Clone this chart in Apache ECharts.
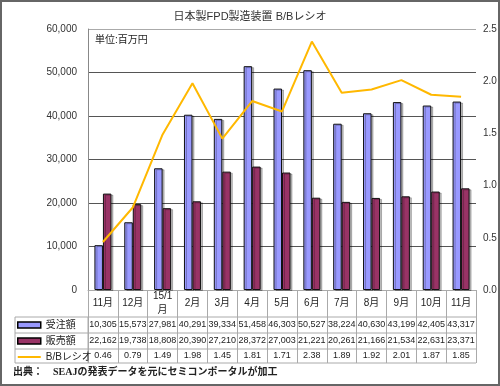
<!DOCTYPE html>
<html>
<head>
<meta charset="utf-8">
<script src="https://cdn.jsdelivr.net/npm/echarts@6/dist/echarts.min.js"></script>
<style>
html,body{margin:0;padding:0;background:#fff;}
#wrap{position:relative;width:500px;height:386px;}
#chart{position:absolute;left:0;top:0;width:500px;height:386px;}
#frame{position:absolute;left:0;top:0;width:500px;height:386px;box-sizing:border-box;border:2px solid #666;pointer-events:none;}
</style>
</head>
<body>
<div id="wrap"><div id="chart"></div><div id="frame"></div></div>
<script>
const categories = ['11月','12月','15/1\n月','2月','3月','4月','5月','6月','7月','8月','9月','10月','11月'];
const orders = [10305,15573,27981,40291,39334,51458,46303,50527,38224,40630,43199,42405,43317];
const sales = [22162,19738,18808,20390,27210,28372,27003,21221,20261,21166,21534,22631,23371];
const ratio = [0.46,0.79,1.49,1.98,1.45,1.81,1.71,2.38,1.89,1.92,2.01,1.87,1.85];
const seriesNames = ['受注額','販売額','B/Bレシオ'];
const titleText = '日本製FPD製造装置 B/Bレシオ';
const unitText = '単位:百万円';
const sourceText = '出典：　SEAJの発表データを元にセミコンポータルが加工';

const fmt = v => v.toLocaleString('en-US');
const chart = echarts.init(document.getElementById('chart'), null, {renderer:'canvas'});
const FONT = "'Liberation Sans', 'Noto Sans CJK JP', sans-serif";
const gridL = 88, gridR = 476, gridT = 29, gridB = 290;
const tableL = 15, rows = [317, 333, 349, 363];

const lineGfx = [];
rows.forEach(y => lineGfx.push({type:'line', shape:{x1:tableL, y1:y, x2:gridR, y2:y}, style:{stroke:'#aaa', lineWidth:1}}));
[tableL, gridL].forEach(x => lineGfx.push({type:'line', shape:{x1:x, y1:rows[0], x2:x, y2:rows[3]}, style:{stroke:'#aaa', lineWidth:1}}));

function tableAxis(data, offset){
  return {
    type:'category', data:data, position:'bottom', offset:offset, gridIndex:0,
    axisLine:{show:false}, axisTick:{show:false},
    axisLabel:{interval:0, fontSize:9, color:'#222', margin:8, verticalAlign:'middle', fontFamily:FONT}
  };
}

chart.setOption({
  animation:false,
  textStyle:{fontFamily:FONT},
  title:{text:titleText, left:'center', top:6, textStyle:{fontSize:11, fontWeight:'normal', color:'#333', fontFamily:FONT}},
  grid:{left:gridL, right:500-gridR, top:gridT, bottom:386-gridB, containLabel:false},
  legend:{
    orient:'vertical', left:17, top:rows[0], padding:0, itemGap:0, itemWidth:23, itemHeight:6,
    data:[
      {name:seriesNames[0], icon:'rect', itemStyle:{borderColor:'#000', borderWidth:1.5}},
      {name:seriesNames[1], icon:'rect', itemStyle:{borderColor:'#000', borderWidth:1.5}},
      {name:seriesNames[2], icon:'path://M0,0 L23,0 L23,2 L0,2 Z', itemStyle:{color:'#FFB800', borderWidth:0}}
    ],
    textStyle:{fontSize:10, color:'#222', lineHeight:16, height:16, fontFamily:FONT},
    selectedMode:false
  },
  xAxis:[
    {
      type:'category', data:categories, gridIndex:0, position:'bottom',
      axisLine:{show:true, lineStyle:{color:'#aaa', width:1}},
      axisTick:{show:true, interval:0, length:rows[3]-gridB, lineStyle:{color:'#aaa'}},
      axisLabel:{interval:0, fontSize:10, color:'#222', margin:13, lineHeight:14, verticalAlign:'middle', fontFamily:FONT}
    },
    tableAxis(orders.map(fmt), rows[0]-gridB),
    tableAxis(sales.map(fmt), rows[1]-gridB),
    tableAxis(ratio.map(v => v.toFixed(2)), rows[2]-gridB-1)
  ],
  yAxis:[
    {
      type:'value', min:0, max:60000, interval:10000, position:'left',
      axisLine:{show:true, lineStyle:{color:'#888'}}, axisTick:{show:false},
      axisLabel:{fontSize:10, color:'#333', margin:11, formatter:v => fmt(v)},
      splitLine:{show:true, lineStyle:{color:['#555','#555','#555','#555','#555','#555','#aaa'], width:1}}
    },
    {
      type:'value', min:0, max:2.5, interval:0.5, position:'right',
      axisLine:{show:false}, axisTick:{show:false}, splitLine:{show:false},
      axisLabel:{fontSize:10, color:'#333', margin:7, formatter:v => v.toFixed(1)}
    }
  ],
  series:[
    {name:seriesNames[0], type:'bar', data:orders, xAxisIndex:0, yAxisIndex:0, barWidth:8.5, barGap:'0%',
     itemStyle:{color:'#9999FF', borderColor:'#111', borderWidth:1, shadowColor:'rgba(0,0,0,0.25)', shadowOffsetX:2, shadowOffsetY:1}},
    {name:seriesNames[1], type:'bar', data:sales, xAxisIndex:0, yAxisIndex:0, barWidth:8.5, barGap:'0%',
     itemStyle:{color:'#993366', borderColor:'#111', borderWidth:1, shadowColor:'rgba(0,0,0,0.25)', shadowOffsetX:2, shadowOffsetY:1}},
    {name:seriesNames[2], type:'line', data:ratio, xAxisIndex:0, yAxisIndex:1, symbol:'none',
     lineStyle:{color:'#FFB800', width:2}, itemStyle:{color:'#FFB800'}, z:5}
  ],
  graphic:[
    {type:'text', left:95, top:35, style:{text:unitText, fontSize:10, fill:'#222', fontFamily:FONT}},
    {type:'text', left:13, top:367, style:{text:sourceText, fontSize:10, fill:'#222', fontWeight:'bold', fontFamily:"'Liberation Serif', 'Noto Sans CJK JP', serif"}}
  ].concat(lineGfx)
});
</script>
</body>
</html>
